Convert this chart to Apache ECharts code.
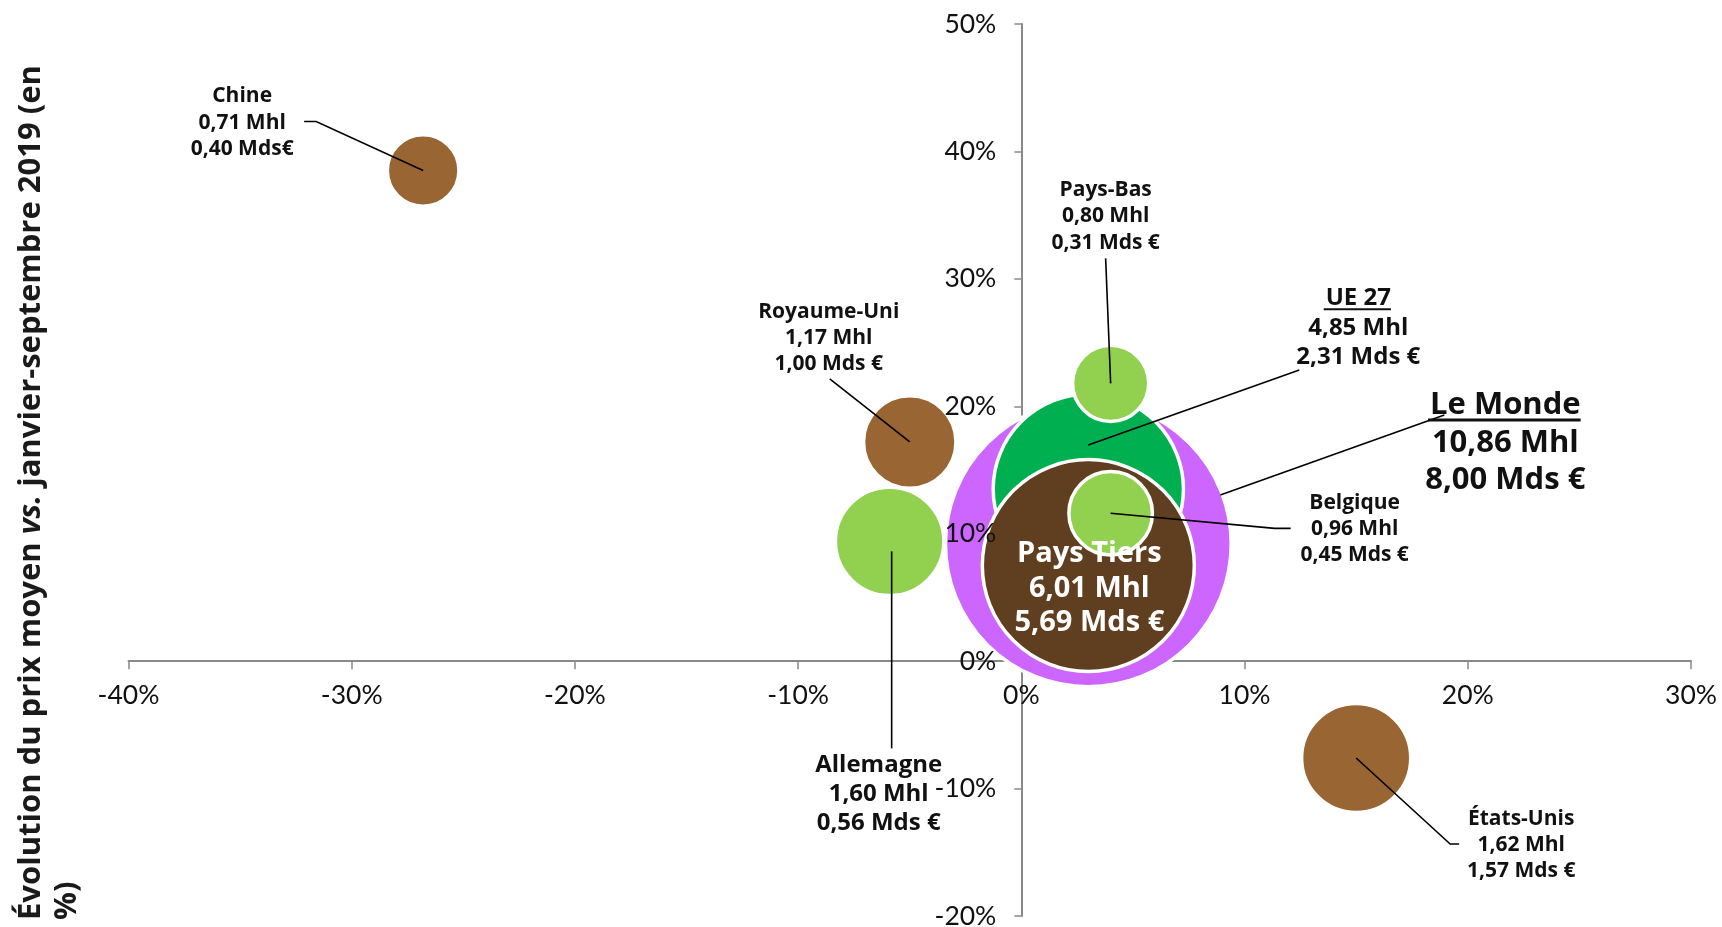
<!DOCTYPE html>
<html>
<head>
<meta charset="utf-8">
<script src="https://cdn.jsdelivr.net/npm/echarts@6/dist/echarts.min.js"></script>
<style>
html,body{margin:0;padding:0;background:#fff;}
#chart{width:1722px;height:927px;}
</style>
</head>
<body>
<div id="chart"></div>
<script>
// ---------- DATA ----------
const names     = ['Chine', 'Royaume-Uni', 'Allemagne', 'États-Unis', 'Le Monde', 'UE 27', 'Pays-Bas', 'Pays Tiers', 'Belgique'];
const volumeVar = [-26.8, -5.0, -5.9, 15.0, 3.0, 3.0, 4.0, 3.0, 4.0];      // x, %
const priceVar  = [38.5, 17.2, 9.4, -7.6, 9.2, 13.5, 21.8, 7.5, 11.6];      // y, %
const volumeMhl = [0.71, 1.17, 1.60, 1.62, 10.86, 4.85, 0.80, 6.01, 0.96];
const valueMds  = [0.40, 1.00, 0.56, 1.57, 8.00, 2.31, 0.31, 5.69, 0.45];
const mdsUnit   = ['Mds€', 'Mds €', 'Mds €', 'Mds €', 'Mds €', 'Mds €', 'Mds €', 'Mds €', 'Mds €'];
const xRange = [-40, 30];
const yRange = [-20, 50];
const tickStep = 10;
const yTitle = ['Évolution du prix moyen ', 'vs.', ' janvier-septembre 2019 (en', '%)'];

// ---------- STYLE / LAYOUT ----------
const colors = {
  'Chine': '#996633', 'Royaume-Uni': '#996633', 'États-Unis': '#996633',
  'Allemagne': '#92D050', 'Pays-Bas': '#92D050', 'Belgique': '#92D050',
  'Le Monde': '#CC66FF', 'UE 27': '#00B050', 'Pays Tiers': '#603E20'
};
// label placement relative to bubble centre (pixels)
const labelLayout = {
  'Chine':       {size: 21, lh: 26.5, dx: -181, dy: -48,  leader: [[-119, -49], [-107, -49], [0, 0]]},
  'Royaume-Uni': {size: 21, lh: 26,   dx: -81,  dy: -104, leader: [[-80, -63], [0, 0]]},
  'Allemagne':   {size: 24, lh: 29,   dx: -11,  dy: 253,  leader: [[2, 207], [2, 10]]},
  'États-Unis':  {size: 21, lh: 26,   dx: 165,  dy: 87,   leader: [[0, 0], [94, 86], [103, 86]]},
  'Le Monde':    {size: 31, lh: 37.5, dx: 417,  dy: -101, leader: [[132, -49], [356, -129]], underline: 3, ulOff: 0.47},
  'UE 27':       {size: 24, lh: 29.5, dx: 270,  dy: -161, leader: [[211, -119], [0, -44]], underline: 2, ulOff: 0.44},
  'Pays-Bas':    {size: 21, lh: 26.5, dx: -5,   dy: -167, leader: [[-5, -125], [0, 0]]},
  'Pays Tiers':  {size: 29, lh: 34.5, dx: 1,    dy: 23,   color: '#ffffff'},
  'Belgique':    {size: 21, lh: 26,   dx: 244,  dy: 16,   leader: [[0, 0], [164, 15], [180, 15]]}
};
const LABEL_FONT = '"Open Sans", "DejaVu Sans", sans-serif';
const AXIS_FONT = 'Lato, "Open Sans", sans-serif';
const X_LABEL_GAP = 21;   // gap between x axis line and its labels
const Y_LABEL_GAP = 25;   // gap between y axis line and its labels

const fmt = v => v.toFixed(2).replace('.', ',');
const measureCtx = document.createElement('canvas').getContext('2d');
function textWidth(t, font) { measureCtx.font = font; return measureCtx.measureText(t).width; }

const points = names.map((n, i) => ({
  name: n,
  value: [volumeVar[i], priceVar[i], volumeMhl[i], i],
  itemStyle: {color: colors[n]}
}));

const chart = echarts.init(document.getElementById('chart'), null, {renderer: 'canvas'});

const axisLineStyle = {color: '#898989', width: 2};
const labelStyle = {fontFamily: AXIS_FONT, fontSize: 26.5, color: '#111111', formatter: v => v + '%'};

chart.setOption({
  animation: false,
  backgroundColor: '#ffffff',
  grid: {left: 128.5, right: 31, top: 24, bottom: 11, containLabel: false, outerBoundsMode: 'none'},
  xAxis: [{
    type: 'value', min: xRange[0], max: xRange[1], interval: tickStep,
    position: 'bottom',
    axisLine: {show: true, onZero: true, lineStyle: axisLineStyle},
    axisTick: {show: true, length: 8, lineStyle: {color: '#898989', width: 1.5}},
    axisLabel: Object.assign({show: true, margin: X_LABEL_GAP}, labelStyle),
    splitLine: {show: false}
  }],
  yAxis: [{
    type: 'value', min: yRange[0], max: yRange[1], interval: tickStep,
    position: 'left', z: 0,
    axisLine: {show: true, onZero: true, lineStyle: axisLineStyle},
    axisTick: {show: true, length: 7, lineStyle: {color: '#898989', width: 1.5}},
    axisLabel: {show: false},
    splitLine: {show: false}
  }, {
    type: 'value', min: yRange[0], max: yRange[1], interval: tickStep,
    position: 'left', z: 6,
    axisLine: {show: false, onZero: false},
    axisTick: {show: false},
    axisLabel: Object.assign({show: true, margin: Y_LABEL_GAP}, labelStyle),
    splitLine: {show: false}
  }],
  graphic: [{
    type: 'text',
    x: 13, y: 920,
    rotation: Math.PI / 2,
    silent: true,
    style: {
      text: '{b|' + yTitle[0] + '}{i|' + yTitle[1] + '}{b|' + yTitle[2] + '}\n{b|' + yTitle[3] + '}',
      align: 'left', verticalAlign: 'top',
      rich: {
        b: {fontFamily: LABEL_FONT, fontWeight: 'bold', fontSize: 31, lineHeight: 36, fill: '#1a1a1a'},
        i: {fontFamily: LABEL_FONT, fontWeight: 'bold', fontStyle: 'italic', fontSize: 31, lineHeight: 36, fill: '#1a1a1a'}
      }
    }
  }],
  series: [{
    type: 'scatter',
    xAxisIndex: 0, yAxisIndex: 0,
    z: 2,
    silent: true,
    symbol: 'circle',
    symbolSize: d => 87.3 * Math.sqrt(d[2]) - 2,
    itemStyle: {borderColor: '#ffffff', borderWidth: 3.5, opacity: 1},
    emphasis: {disabled: true},
    data: points
  }, {
    type: 'custom',
    xAxisIndex: 0, yAxisIndex: 0,
    z: 10,
    silent: true,
    clip: false,
    data: points.map(p => p.value),
    renderItem: function (params, api) {
      const i = api.value(3);
      const name = names[i];
      const L = labelLayout[name];
      const c = api.coord([api.value(0), api.value(1)]);
      const children = [];
      if (L.leader) {
        children.push({
          type: 'polyline',
          shape: {points: L.leader.map(p => [c[0] + p[0], c[1] + p[1]])},
          style: {stroke: '#000000', lineWidth: 1.6, fill: null}
        });
      }
      const font = 'bold ' + L.size + 'px ' + LABEL_FONT;
      const lines = [name, fmt(volumeMhl[i]) + ' Mhl', fmt(valueMds[i]) + ' ' + mdsUnit[i]];
      const tx = c[0] + L.dx, ty = c[1] + L.dy;
      children.push({
        type: 'text',
        x: tx, y: ty,
        style: {
          text: lines.join('\n'),
          fontFamily: LABEL_FONT, fontWeight: 'bold', fontSize: L.size,
          lineHeight: L.lh, align: 'center', verticalAlign: 'middle',
          fill: L.color || '#111111'
        }
      });
      if (L.underline) {
        const w = textWidth(name, font);
        const uy = ty - L.lh + L.size * L.ulOff;
        children.push({
          type: 'line',
          shape: {x1: tx - w / 2 - 2, y1: uy, x2: tx + w / 2, y2: uy},
          style: {stroke: '#111111', lineWidth: L.underline}
        });
      }
      return {type: 'group', children: children};
    }
  }]
});

// ECharts keeps tick labels at the grid edge when the axis line sits on zero;
// move them next to the zero lines using the chart's own scales.
for (let k = 0; k < 3; k++) {
  const zeroX = chart.convertToPixel({xAxisIndex: 0}, 0);
  const leftX = chart.convertToPixel({xAxisIndex: 0}, xRange[0]);
  const zeroY = chart.convertToPixel({yAxisIndex: 0}, 0);
  const bottomY = chart.convertToPixel({yAxisIndex: 0}, yRange[0]);
  chart.setOption({
    xAxis: [{axisLabel: {margin: X_LABEL_GAP - (bottomY - zeroY)}}],
    yAxis: [{}, {axisLabel: {margin: Y_LABEL_GAP - (zeroX - leftX)}}]
  });
}
</script>
</body>
</html>
